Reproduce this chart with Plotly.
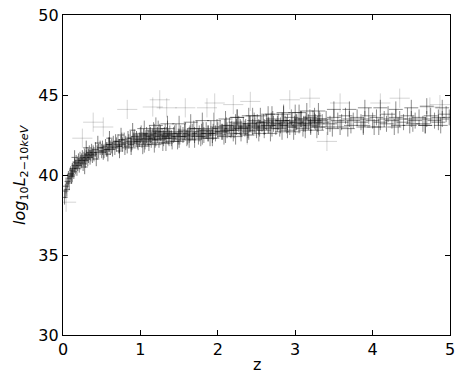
import plotly.graph_objects as go

# main band: redshift z and log10 L(2-10 keV)
z_a = [0.02,0.03,0.04,0.05,0.06,0.07,0.08,0.09,0.10,0.11,0.12,0.13,0.14,0.15,0.16,0.17,0.18,0.19,0.20,0.21,0.22,0.23,0.24,0.25,0.26,0.27,0.28,0.29,0.30,0.31,0.32,0.33,0.34,0.35,0.36,0.37,0.38,0.39,0.40,0.42,0.44,0.46,0.48,0.50]
L_a = [38.6,39.0,39.3,39.1,39.6,39.8,39.5,40.0,40.1,39.9,40.3,40.4,40.2,40.6,40.5,40.8,40.4,40.7,40.9,40.6,41.0,40.8,40.9,41.1,40.7,41.0,41.2,40.9,41.1,41.3,41.0,41.2,41.4,41.1,41.3,41.5,41.2,41.4,41.3,41.6,41.4,41.5,41.7,41.5]

z_b = [0.51,0.53,0.55,0.57,0.59,0.61,0.63,0.65,0.67,0.69,0.71,0.73,0.75,0.77,0.79,0.81,0.83,0.85,0.87,0.89,0.91,0.93,0.95,0.97,0.99,0.52,0.56,0.60,0.64,0.68,0.72,0.76,0.80,0.84,0.88,0.92,0.96,1.00]
L_b = [41.7,41.5,41.8,41.6,41.9,41.7,41.8,42.0,41.7,41.9,42.1,41.8,42.0,41.9,42.2,42.0,41.8,42.1,42.3,42.0,42.2,42.1,42.3,42.0,42.2,41.4,41.6,41.9,41.6,42.1,41.8,42.2,41.7,42.3,41.9,42.4,42.1,42.5]

z_c = [1.02,1.04,1.06,1.08,1.10,1.12,1.14,1.16,1.18,1.20,1.22,1.24,1.26,1.28,1.30,1.32,1.34,1.36,1.38,1.40,1.43,1.46,1.49,1.52,1.55,1.58,1.61,1.64,1.67,1.70,1.73,1.76,1.79,1.82,1.85,1.88,1.91,1.94,1.97,2.00,1.05,1.11,1.17,1.23,1.29,1.35,1.41,1.50,1.60,1.70,1.80,1.90]
L_c = [42.2,42.4,42.1,42.5,42.3,42.6,42.2,42.4,42.7,42.3,42.5,42.2,42.6,42.4,42.3,42.7,42.5,42.4,42.6,42.3,42.5,42.7,42.4,42.6,42.5,42.8,42.4,42.6,42.7,42.5,42.9,42.6,42.7,42.5,42.8,42.6,42.9,42.7,42.6,42.8,41.9,42.0,42.8,42.9,42.0,42.9,42.1,42.2,42.3,42.2,42.4,42.3]

z_d = [2.03,2.06,2.09,2.12,2.15,2.18,2.21,2.24,2.27,2.30,2.33,2.36,2.39,2.42,2.45,2.48,2.51,2.54,2.57,2.60,2.63,2.66,2.69,2.72,2.75,2.78,2.81,2.84,2.87,2.90,2.93,2.96,2.99,3.02,3.05,3.08,3.11,3.14,3.17,3.20,3.23,3.26,3.29,3.32,2.10,2.20,2.30,2.40,2.50,2.60,2.70,2.80,2.90,3.00,3.10,3.20,3.30,2.25,2.45,2.65,2.85,3.05,3.25]
L_d = [42.9,42.7,43.0,42.8,43.1,42.9,42.8,43.0,43.2,42.9,43.1,43.0,42.8,43.2,43.0,43.1,43.3,42.9,43.2,43.0,43.3,43.1,43.4,43.2,43.0,43.3,43.1,43.4,43.2,43.3,43.0,43.4,43.2,43.3,43.1,43.5,43.2,43.4,43.3,43.1,43.5,43.3,43.2,43.4,42.5,42.6,42.6,42.7,42.8,42.8,42.9,42.9,42.8,43.0,42.9,43.0,43.0,43.6,43.7,43.8,43.8,43.9,43.7]

z_e = [3.35,3.40,3.45,3.50,3.55,3.60,3.65,3.70,3.75,3.80,3.85,3.90,3.95,4.00,4.05,4.10,4.15,4.20,4.25,4.30,4.35,4.40,4.45,4.50,4.55,4.60,4.65,4.70,4.75,4.80,4.85,4.90,4.95,4.99,3.42,3.58,3.72,3.88,4.02,4.18,4.33,4.52,4.68,4.85]
L_e = [43.3,43.5,43.2,43.6,43.4,43.3,43.7,43.5,43.4,43.6,43.3,43.5,43.7,43.4,43.6,43.3,43.5,43.8,43.4,43.6,43.5,43.3,43.7,43.5,43.4,43.6,43.2,43.5,43.7,43.4,43.6,43.5,43.8,43.6,43.0,43.0,43.1,43.1,43.0,43.2,43.1,43.2,43.1,43.3]

# upper and lower edges of the band
z_f = [0.15,0.30,0.45,0.60,0.75,0.90,1.05,1.20,1.35,1.50,1.65,1.80,1.95,2.10,2.25,2.40,2.55,2.70,2.85,3.00,3.15,3.30,3.50,3.70,3.90,4.10,4.30,4.50,4.70,4.90]
L_f = [41.1,41.7,42.0,42.3,42.5,42.8,42.9,43.1,43.2,43.2,43.3,43.4,43.4,43.5,43.6,43.7,43.7,43.8,43.9,43.9,44.0,44.0,44.1,44.1,44.2,44.2,44.1,44.2,44.3,44.2]
z_g = [0.12,0.28,0.43,0.58,0.73,0.88,1.03,1.18,1.33,1.48,1.63,1.78,1.93,2.08,2.23,2.38,2.53,2.68,2.83,2.98,3.13,3.28,3.48,3.68,3.88,4.08,4.28,4.48,4.68,4.88]
L_g = [40.0,40.5,41.0,41.3,41.5,41.7,41.8,41.9,42.0,42.1,42.2,42.3,42.3,42.4,42.4,42.5,42.6,42.6,42.7,42.7,42.8,42.8,42.9,42.9,43.0,43.0,43.0,43.1,43.1,43.1]

# extra sources in the densest part
z_h = [1.01,1.07,1.13,1.19,1.25,1.31,1.37,1.44,1.51,1.57,1.63,1.69,1.75,1.81,1.87,1.93,1.99,2.05,2.11,2.17,2.23,2.29,2.35,2.41,2.47,2.53,2.59,2.65,2.71,2.77,2.83,2.89,2.95,3.01,3.07,3.13,3.19,3.25,3.31]
L_h = [42.6,42.3,42.5,42.2,42.7,42.5,42.3,42.6,42.4,42.7,42.5,42.9,42.4,42.8,42.6,42.5,43.0,42.7,43.1,42.8,43.3,43.0,42.9,43.2,43.4,43.0,43.3,43.1,43.5,43.2,43.4,43.1,43.6,43.3,43.5,43.2,43.6,43.4,43.5]

# scattered sources with large uncertainties
z_out = [0.04,0.25,0.39,0.52,0.83,1.16,1.25,1.34,1.58,1.86,1.96,2.20,2.42,2.93,3.19,3.41,3.58,4.10,4.35,4.74,4.87,2.38]
L_out = [38.3,42.3,43.3,43.0,44.1,44.25,44.7,44.2,44.2,44.2,44.5,44.4,44.6,44.7,44.8,42.1,44.5,44.5,44.8,44.25,44.4,42.5]

z_all = z_a + z_b + z_c + z_d + z_e + z_f + z_g + z_h
L_all = L_a + L_b + L_c + L_d + L_e + L_f + L_g + L_h
low = [(z, L) for z, L in zip(z_all, L_all) if z < 1.0]
high = [(z, L) for z, L in zip(z_all, L_all) if z >= 1.0]

fig = go.Figure()


def add_crosses(pts, ex, ey, color):
    fig.add_trace(go.Scatter(
        x=[p[0] for p in pts], y=[p[1] for p in pts], mode="markers",
        marker=dict(size=1, color="rgba(0,0,0,0)"),
        error_x=dict(type="constant", value=ex, width=0, thickness=1, color=color),
        error_y=dict(type="constant", value=ey, width=0, thickness=1, color=color),
        hoverinfo="skip", showlegend=False))


add_crosses(low, 0.04, 0.45, "rgba(0,0,0,0.5)")
add_crosses(high, 0.09, 0.5, "rgba(0,0,0,0.45)")
add_crosses(list(zip(z_out, L_out)), 0.13, 0.6, "rgba(0,0,0,0.17)")

axis_common = dict(showline=True, linecolor="black", linewidth=1.2, mirror="ticks",
                   ticks="inside", ticklen=5, tickwidth=1, tickcolor="black",
                   showgrid=False, zeroline=False, automargin=False,
                   ticklabeloverflow="allow",
                   tickfont=dict(family="DejaVu Sans", size=16, color="black"))

fig.update_xaxes(range=[0, 5], tickvals=[0, 1, 2, 3, 4, 5], **axis_common)
fig.update_yaxes(range=[30, 50], tickvals=[30, 35, 40, 45, 50], **axis_common)

fig.add_annotation(text="z", xref="paper", yref="paper", x=0.5, y=0, yshift=-29,
                   xanchor="center", yanchor="middle", showarrow=False,
                   font=dict(family="DejaVu Sans", size=16, color="black"))
fig.add_annotation(text="<i>log</i><sub>10</sub><i>L</i><sub>2−10<i>keV</i></sub>",
                   xref="paper", yref="paper", x=0, y=0.5, xshift=-43, textangle=-90,
                   xanchor="center", yanchor="middle", showarrow=False,
                   font=dict(family="DejaVu Sans", size=16, color="black"))

fig.update_layout(width=465, height=379, margin=dict(l=63, r=15, t=15, b=44),
                  plot_bgcolor="white", paper_bgcolor="white")

# remove the page's default body margin so the figure fills the window exactly
fig.write_html("out.html", config={"displayModeBar": False},
               post_script="document.body.style.margin='0px';")
